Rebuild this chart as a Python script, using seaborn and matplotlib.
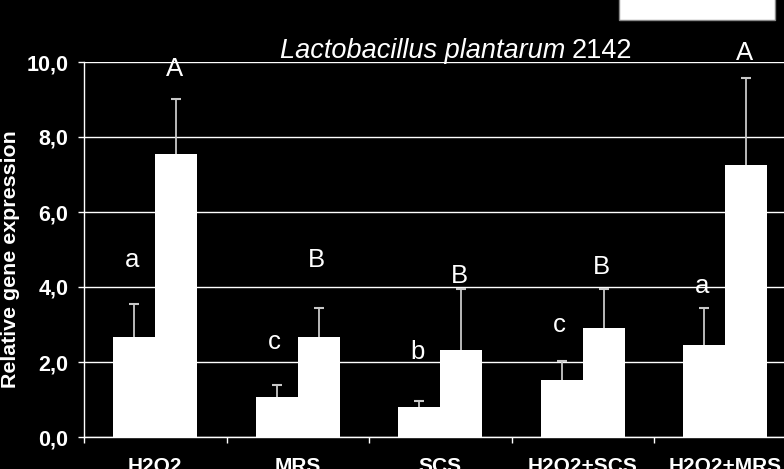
import matplotlib
matplotlib.use("Agg")
import matplotlib.pyplot as plt
import seaborn as sns
import pandas as pd
import numpy as np
from matplotlib.patches import Rectangle

categories = ["H2O2", "MRS", "SCS", "H2O2+SCS", "H2O2+MRS"]
series_names = ["Series 1", "Series 2"]
values_s1 = [2.67, 1.07, 0.81, 1.52, 2.45]
values_s2 = [7.54, 2.67, 2.32, 2.92, 7.24]
err_s1 = [0.89, 0.33, 0.14, 0.52, 1.00]
err_s2 = [1.46, 0.78, 1.62, 1.04, 2.33]
letters_s1 = ["a", "c", "b", "c", "a"]
letters_s2 = ["A", "B", "B", "B", "A"]
letter_y_s1 = [4.53, 2.35, 2.08, 2.80, 3.84]
letter_y_s2 = [9.63, 4.53, 4.11, 4.35, 10.05]
yticks = [0, 2, 4, 6, 8, 10]
ytick_labels = ["0,0", "2,0", "4,0", "6,0", "8,0", "10,0"]

df = pd.DataFrame({
    "category": categories * 2,
    "series": [series_names[0]] * 5 + [series_names[1]] * 5,
    "value": values_s1 + values_s2,
})

sns.set_theme(style="white")
plt.rcParams["font.family"] = ["Liberation Sans", "DejaVu Sans"]

W, H = 784, 469
fig = plt.figure(figsize=(W / 100, H / 100), dpi=100, facecolor="black")
ax = fig.add_axes([84 / W, (H - 437) / H, 5 * 142.5 / W, (437 - 62) / H])
ax.set_facecolor("black")

sns.barplot(data=df, x="category", y="value", hue="series", order=categories,
            hue_order=series_names, palette=["white", "white"], width=0.59,
            errorbar=None, linewidth=0, legend=False, ax=ax, zorder=3)

errs = [err_s1, err_s2]
lets = [letters_s1, letters_s2]
lys = [letter_y_s1, letter_y_s2]
bar_conts = list(ax.containers)
for ci, cont in enumerate(bar_conts):
    for bi, bar in enumerate(cont.patches):
        xc = bar.get_x() + bar.get_width() / 2
        h = bar.get_height()
        eb = ax.errorbar([xc], [h], yerr=[[0], [errs[ci][bi]]], fmt="none",
                         ecolor="#c8c8c8", elinewidth=1.3, capsize=3.5,
                         capthick=1.5, zorder=2, clip_on=False)
        for cl in eb[1]:
            if np.allclose(cl.get_ydata(), h):
                cl.set_visible(False)
        ax.text(xc - 0.014, lys[ci][bi], lets[ci][bi], ha="center",
                va="baseline", color="white", fontsize=18.5, clip_on=False)

ax.set_xlim(-0.5, 4.5)
ax.set_ylim(0, 10)
ax.set_yticks(yticks)
ax.set_yticklabels(ytick_labels)
ax.set_xticks(range(5))
ax.set_xticklabels(categories)
ax.set_xticks(np.arange(-0.5, 5.0, 1.0), minor=True)
ax.tick_params(axis="x", which="major", length=0, pad=14.4, labelsize=15,
               labelcolor="white")
ax.tick_params(axis="x", which="minor", length=4.3, width=1, color="white",
               direction="out", bottom=True)
ax.tick_params(axis="y", length=4.3, width=1, color="white", direction="out",
               pad=7, labelsize=15.5, labelcolor="white", left=True)
for lab in ax.get_xticklabels() + ax.get_yticklabels():
    lab.set_fontweight("bold")
ax.set_xlabel("")
ax.set_ylabel("")
ax.yaxis.grid(True, color="white", linewidth=1)
ax.xaxis.grid(False)
ax.set_axisbelow(True)
for s in ["top", "right"]:
    ax.spines[s].set_visible(False)
for s in ["left", "bottom"]:
    ax.spines[s].set_color("white")
    ax.spines[s].set_linewidth(1)

fig.text(10.5 / W, 1 - 259 / H, "Relative gene expression", rotation=90,
         ha="center", va="center", color="white", fontsize=15.4,
         fontweight="bold")

fig.text(565 / W, 1 - 58 / H, "Lactobacillus plantarum", ha="right",
         va="baseline", color="white", fontsize=19.5, style="italic")
fig.text(572 / W, 1 - 58 / H, "2142", ha="left", va="baseline",
         color="white", fontsize=19.5)

fig.patches.append(Rectangle((619 / W, 1 - 20 / H), (775 - 619) / W, 22 / H,
                             transform=fig.transFigure, facecolor="white",
                             edgecolor="#888888", linewidth=1))

fig.savefig("out.png", dpi=100, facecolor="black")
